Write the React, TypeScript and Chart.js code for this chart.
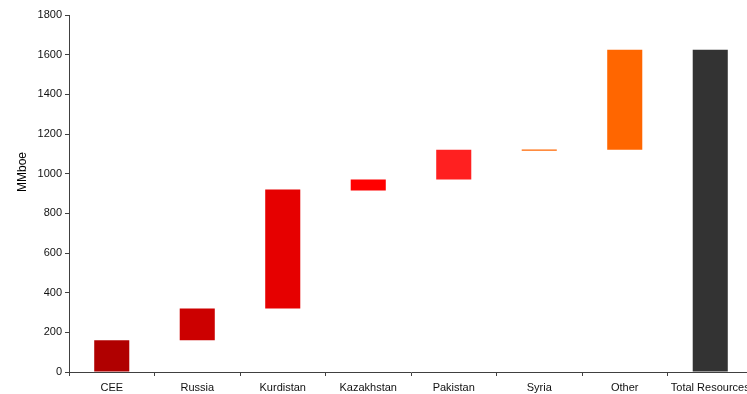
import React, { useEffect, useRef } from "react";
import { Chart, registerables } from "chart.js";

Chart.register(...registerables);

const categories = ["CEE", "Russia", "Kurdistan", "Kazakhstan", "Pakistan", "Syria", "Other", "Total Resources"];
const barBase = [0, 160, 320, 915, 970, 1116, 1120, 0];
const barTop = [160, 320, 920, 970, 1120, 1122, 1625, 1625];
const barColors = ["#B00000", "#CC0000", "#E60000", "#FF0000", "#FF2020", "#FF6600", "#FF6600", "#333333"];
const yTicks = [0, 200, 400, 600, 800, 1000, 1200, 1400, 1600, 1800];
const yTitle = "MMboe";

const yTitlePlugin = {
  id: "yTitlePlugin",
  afterDraw(chart: any) {
    const ctx = chart.ctx;
    ctx.save();
    ctx.translate(23, 172);
    ctx.rotate(-Math.PI / 2);
    ctx.font = "12px 'Liberation Sans', Arial, sans-serif";
    ctx.fillStyle = "#000";
    ctx.textAlign = "center";
    ctx.textBaseline = "middle";
    ctx.fillText(yTitle, 0, 0);
    ctx.restore();
  },
};

export default function App() {
  const ref = useRef<HTMLCanvasElement | null>(null);
  useEffect(() => {
    if (!ref.current) return;
    const font = { family: "'Liberation Sans', Arial, sans-serif", size: 11 };
    const chart = new Chart(ref.current, {
      type: "bar",
      data: {
        labels: categories,
        datasets: [
          {
            data: categories.map((_, i) => [barBase[i], barTop[i]]) as any,
            backgroundColor: barColors,
            borderWidth: 0,
            categoryPercentage: 1,
            barPercentage: 0.41,
          },
        ],
      },
      plugins: [yTitlePlugin],
      options: {
        animation: false,
        responsive: false,
        maintainAspectRatio: false,
        layout: { padding: { left: 0, right: 47, top: 15, bottom: 0 } },
        plugins: { legend: { display: false }, tooltip: { enabled: false } },
        scales: {
          x: {
            grid: { drawOnChartArea: false, tickLength: 4, color: "#404040", offset: true },
            border: { display: true, color: "#404040", width: 1 },
            ticks: { font, color: "#111", padding: 5, maxRotation: 0, autoSkip: false },
            afterFit: (s: any) => { s.height = 22; },
          },
          y: {
            min: 0,
            max: 1800,
            afterBuildTicks: (s: any) => { s.ticks = yTicks.map((v) => ({ value: v })); },
            grid: { drawOnChartArea: false, tickLength: 4, color: "#404040" },
            border: { display: true, color: "#404040", width: 1 },
            ticks: { font, color: "#111", padding: 3, callback: (v: any) => String(v) },
            afterFit: (s: any) => { s.width = 69; },
          },
        },
      },
    });
    return () => chart.destroy();
  }, []);
  return (
    <div style={{ position: "fixed", left: 0, top: 0, width: 747, height: 394, overflow: "hidden", background: "#fff" }}>
      <canvas ref={ref} width={800} height={394} style={{ display: "block" }} />
    </div>
  );
}
